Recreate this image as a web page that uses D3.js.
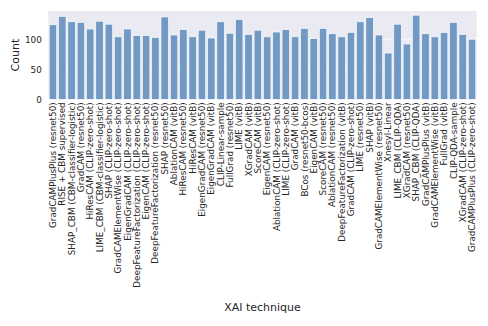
<!DOCTYPE html>
<html>
<head>
<meta charset="utf-8">
<script src="https://cdn.jsdelivr.net/npm/d3@7"></script>
<style>
  html, body { margin: 0; padding: 0; background: #ffffff; }
  svg { display: block; }
  text { font-family: "DejaVu Sans", sans-serif; fill: #262626; }
</style>
</head>
<body>
<svg id="chart" width="488" height="326"></svg>
<script>
const categories = [
  "GradCAMPlusPlus (resnet50)",
  "RISE + CBM supervised",
  "SHAP_CBM (CBM-classifier-logistic)",
  "GradCAM (resnet50)",
  "HiResCAM (CLIP-zero-shot)",
  "LIME_CBM (CBM-classifier-logistic)",
  "SHAP (CLIP-zero-shot)",
  "GradCAMElementWise (CLIP-zero-shot)",
  "EigenGradCAM (CLIP-zero-shot)",
  "DeepFeatureFactorization (CLIP-zero-shot)",
  "EigenCAM (CLIP-zero-shot)",
  "DeepFeatureFactorization (resnet50)",
  "SHAP (resnet50)",
  "AblationCAM (vitB)",
  "HiResCAM (resnet50)",
  "HiResCAM (vitB)",
  "EigenGradCAM (resnet50)",
  "EigenGradCAM (vitB)",
  "CLIP-Linear-sample",
  "FullGrad (resnet50)",
  "LIME (vitB)",
  "XGradCAM (vitB)",
  "ScoreCAM (vitB)",
  "EigenCAM (resnet50)",
  "AblationCAM (CLIP-zero-shot)",
  "LIME (CLIP-zero-shot)",
  "GradCAM (vitB)",
  "BCos (resnet50-bcos)",
  "EigenCAM (vitB)",
  "ScoreCAM (resnet50)",
  "AblationCAM (resnet50)",
  "DeepFeatureFactorization (vitB)",
  "GradCAM (CLIP-zero-shot)",
  "LIME (resnet50)",
  "SHAP (vitB)",
  "GradCAMElementWise (resnet50)",
  "Xnesyl-Linear",
  "LIME_CBM (CLIP-QDA)",
  "XGradCAM (resnet50)",
  "SHAP_CBM (CLIP-QDA)",
  "GradCAMPlusPlus (vitB)",
  "GradCAMElementWise (vitB)",
  "FullGrad (vitB)",
  "CLIP-QDA-sample",
  "XGradCAM (CLIP-zero-shot)",
  "GradCAMPlusPlus (CLIP-zero-shot)"
];
const counts = [
  124, 138, 129, 128, 117, 130, 125, 104, 117, 106,
  106, 103, 137, 107, 116, 104, 115, 102, 129, 110,
  133, 108, 115, 104, 112, 116, 104, 118, 101, 118,
  109, 104, 111, 129, 136, 107, 77, 125, 92, 140,
  109, 104, 111, 128, 108, 100
];
const yTicks = [0, 50, 100];
const yLabel = "Count";
const xLabel = "XAI technique";

const svg = d3.select("#chart");
const mLeft = 48.3, mRight = 476.7, mTop = 11, mBottom = 99.3;

const x = d3.scaleBand().domain(categories).range([mLeft, mRight])
  .paddingInner(0.2).paddingOuter(0.1);
const y = d3.scaleLinear().domain([0, 147]).range([mBottom, mTop]);

// background
svg.append("rect").attr("x", mLeft).attr("y", mTop)
  .attr("width", mRight - mLeft).attr("height", mBottom - mTop)
  .attr("fill", "#EAEAF2");

// grid
svg.append("g").selectAll("line").data(yTicks).join("line")
  .attr("x1", mLeft).attr("x2", mRight)
  .attr("y1", d => y(d)).attr("y2", d => y(d))
  .attr("stroke", "#ffffff").attr("stroke-width", 0.8);

// bars
svg.append("g").selectAll("rect").data(categories).join("rect")
  .attr("x", d => x(d))
  .attr("width", x.bandwidth())
  .attr("y", (d, i) => y(counts[i]))
  .attr("height", (d, i) => y(0) - y(counts[i]))
  .attr("fill", "#7199C4")
  .attr("stroke", "#ffffff")
  .attr("stroke-width", 0.6);

// y axis
const yAxis = d3.axisLeft(y).tickValues(yTicks).tickSize(0).tickPadding(6.5);
const gy = svg.append("g").attr("transform", `translate(${mLeft},0)`).call(yAxis);
gy.select(".domain").remove();
gy.selectAll("text").style("font-size", "8.8px").attr("fill", "#262626")
  .style("font-family", "DejaVu Sans, sans-serif");

// x axis
const xAxis = d3.axisBottom(x).tickSize(0).tickPadding(0);
const gx = svg.append("g").attr("transform", `translate(0,${mBottom})`).call(xAxis);
gx.select(".domain").remove();
gx.selectAll("text")
  .style("font-size", "8.8px").attr("fill", "#262626")
  .style("font-family", "DejaVu Sans, sans-serif")
  .attr("text-anchor", "end")
  .attr("dy", "0.35em")
  .attr("transform", "translate(0,3) rotate(-90)")
  .attr("x", 0).attr("y", 0);

// axis labels
svg.append("text")
  .attr("transform", `translate(19,${(mTop + mBottom) / 2}) rotate(-90)`)
  .attr("text-anchor", "middle")
  .style("font-size", "11px")
  .text(yLabel);

svg.append("text")
  .attr("x", (mLeft + mRight) / 2).attr("y", 311)
  .attr("text-anchor", "middle")
  .style("font-size", "11px")
  .text(xLabel);
</script>
</body>
</html>
